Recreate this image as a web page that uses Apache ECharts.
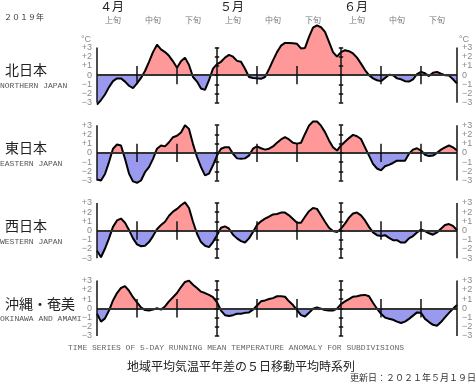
<!DOCTYPE html>
<html><head><meta charset="utf-8">
<script src="https://cdn.jsdelivr.net/npm/echarts@6/dist/echarts.min.js"></script>
<style>html,body{margin:0;padding:0;background:#fff}#c{width:476px;height:382px}</style>
</head><body><div id="c"></div>
<script>
// ---- data ----
const yearLabel = '２０１９年';
const monthLabels = ['４月', '５月', '６月'];
const monthStartIdx = [0, 30, 61];
const dekadLabels = ['上旬', '中旬', '下旬', '上旬', '中旬', '下旬', '上旬', '中旬', '下旬'];
const dekadStartIdx = [0, 10, 20, 30, 40, 50, 61, 71, 81];
const majorLineIdx = [0, 30, 61, 90];
const dekadLineIdx = [10, 20, 40, 50, 71, 81];
const yTicks = [-3, -2, -1, 0, 1, 2, 3];
const regionNames = ['北日本', '東日本', '西日本', '沖縄・奄美'];
const regionNamesEn = ['NORTHERN JAPAN', 'EASTERN JAPAN', 'WESTERN JAPAN', 'OKINAWA AND AMAMI'];

const northern = [-3.2,-2.7,-2.1,-1.3,-0.65,-0.35,-0.35,-0.7,-1.15,-1.4,
  -0.9,-0.3,0.45,1.45,2.5,3.3,2.8,2.5,2.1,1.5,
  0.8,1.5,1.9,1.1,-0.2,-0.7,-1.45,-1.6,-0.55,0.7,
  1.2,1.45,1.9,2.2,2.0,1.55,1.45,0.7,-0.2,-0.3,
  -0.35,-0.4,-0.2,0.65,1.6,2.5,3.2,3.5,3.5,3.45,
  3.4,2.9,2.95,4.15,5.15,5.4,5.2,4.7,3.6,2.5,
  2.0,2.5,2.7,2.6,2.35,1.9,1.25,0.55,0,-0.35,
  -0.55,-0.65,-0.3,0.05,0,-0.35,-0.45,-0.65,-0.7,-0.45,
  0.1,0.35,0.2,-0.1,0.25,0.35,0.15,0,-0.05,-0.45,
  -0.9];
const eastern = [-2.9,-3.0,-2.3,-1.0,0.45,0.9,0.8,-0.65,-2.25,-3.1,
  -3.25,-3.0,-2.1,-1.55,-0.65,0.45,0.8,0.7,1.15,1.7,
  1.85,2.2,3.0,2.6,0.95,-0.45,-1.55,-2.45,-2.25,-1.35,
  -0.3,0.45,0.6,0.6,-0.1,-0.6,-0.65,-0.6,-0.3,0.45,
  0.7,0.5,0.35,0.45,0.7,1.1,1.45,1.7,1.45,1.1,
  1.0,1.1,2.05,2.95,3.4,3.4,2.95,2.25,1.35,0.6,
  0.25,0.8,1.2,1.6,1.95,1.8,1.5,0.6,-0.3,-1.2,
  -1.7,-1.9,-1.45,-1.3,-1.1,-0.85,-0.85,-0.85,-0.1,0.35,
  0.5,0.25,-0.2,-0.35,-0.3,0,0.35,0.6,0.8,0.6,
  0.25];
const western = [-2.2,-2.9,-1.95,-0.85,0.4,1.1,1.3,0.85,0.05,-0.85,
  -1.5,-1.7,-1.65,-1.25,-0.6,0.15,0.6,0.95,1.6,2.05,
  2.35,2.75,3.05,2.45,0.95,-0.35,-1.25,-1.65,-1.8,-1.25,
  -0.5,0.3,0.45,0.2,-0.45,-0.85,-1.15,-1.3,-0.85,-0.15,
  0.6,1.0,1.3,1.5,1.75,1.8,1.95,1.95,1.65,1.25,
  0.85,0.85,1.5,2.1,2.45,2.35,1.65,0.95,0.3,-0.05,
  -0.15,0.2,0.75,1.4,1.85,1.95,1.65,1.1,0.4,-0.2,
  -0.5,-0.6,-0.5,-0.8,-1.05,-1.05,-1.3,-1.3,-0.85,-0.6,
  -0.2,0.1,-0.05,-0.3,-0.45,-0.2,0.2,0.6,0.7,0.5,
  0.05];
const okinawa = [-0.6,-1.45,-1.1,-0.25,0.85,1.65,2.2,2.4,1.9,1.2,
  0.65,0.1,-0.2,-0.25,-0.15,0,-0.15,0.2,0.75,1.2,
  1.65,2.3,2.85,3.0,2.55,2.2,1.8,1.65,1.45,1.2,
  0.65,-0.25,-0.75,-0.85,-0.75,-0.6,-0.6,-0.5,-0.45,-0.15,
  0.3,0.75,0.85,1.0,1.1,1.3,1.3,1.25,0.75,0.35,
  -0.2,-0.75,-0.9,-0.5,-0.05,0.1,-0.05,-0.2,-0.25,-0.25,
  -0.05,0.45,0.75,1.0,1.25,1.3,1.4,1.45,1.3,0.6,
  -0.05,-0.6,-1.0,-1.15,-1.25,-1.45,-1.6,-1.45,-1.15,-0.8,
  -0.45,-0.5,-1.15,-1.5,-1.8,-1.9,-1.5,-1.0,-0.5,-0.05,
  0.35];

// ---- layout / style ----
const panels = [northern, eastern, western, okinawa];
const GRID_L = 97, GRID_W = 360, GRID_TOP0 = 47.5, GRID_STEP = 77.7, GRID_H = 55.3;
const POS = '#ff9999', NEG = '#9999ee';
const CJK = '"Noto Sans CJK JP"';
const MONO = '"Liberation Mono"';
const fmt = v => v > 0 ? '+' + v : (v < 0 ? '\u2212' + (-v) : '0');

const chart = echarts.init(document.getElementById('c'), null, {renderer: 'canvas'});
const grids = [], xAxes = [], yAxes = [], series = [];

panels.forEach((vals, k) => {
  const top = GRID_TOP0 + GRID_STEP * k;
  grids.push({left: GRID_L, top: top, width: GRID_W, height: GRID_H, containLabel: false, outerBoundsMode: 'none'});
  xAxes.push({type: 'value', gridIndex: k, min: 0, max: vals.length - 1, show: false});
  const yBase = {
    type: 'value', gridIndex: k, min: -3, max: 3, interval: 1,
    axisLine: {show: false}, axisTick: {show: false}, splitLine: {show: false},
    axisLabel: {formatter: fmt, color: '#8a8a8a', fontSize: 9, fontFamily: 'Liberation Sans', margin: 5}
  };
  yAxes.push(Object.assign({position: 'left'}, yBase));
  yAxes.push(Object.assign({position: 'right'}, yBase));
  const ml = [];
  ml.push({yAxis: 0, lineStyle: {color: '#333', width: 2}});
  majorLineIdx.forEach(x => {
    ml.push([{coord: [x, -3]}, {coord: [x, 3]}]);
    yTicks.forEach(t => ml.push([{coord: [x - 0.55, t]}, {coord: [x + 0.55, t]}]));
  });
  dekadLineIdx.forEach(x => ml.push([{coord: [x, -1]}, {coord: [x, 1]}]));
  // symmetric axis (-3..3): zero sits at the grid's vertical centre -> offset 0.5 of a global gradient
  const fill = new echarts.graphic.LinearGradient(0, top - 200, 0, top + GRID_H + 200, [
    {offset: 0, color: POS}, {offset: 0.5, color: POS},
    {offset: 0.5, color: NEG}, {offset: 1, color: NEG}
  ], true);
  series.push({
    type: 'line', xAxisIndex: k, yAxisIndex: 2 * k,
    data: vals.map((v, i) => [i, v]),
    symbol: 'none', showSymbol: false, clip: false, z: 3,
    lineStyle: {color: '#000', width: 2},
    areaStyle: {color: fill, opacity: 1, origin: 0},
    markLine: {
      silent: true, symbol: ['none', 'none'], animation: false,
      label: {show: false},
      lineStyle: {color: '#111', width: 1.5, type: 'solid'},
      data: ml
    }
  });
});

function txt(x, y, text, font, fill, align, valign) {
  align = align || 'center'; valign = valign || 'middle';
  return {type: 'text', x: x, y: y, silent: true, z: 10,
    style: {text: text, font: font, fill: fill, textAlign: align, textVerticalAlign: valign, align: align, verticalAlign: valign}};
}
const dayX = i => GRID_L + GRID_W * i / 90;
const graphics = [];
graphics.push(txt(24, 17, yearLabel, '8px ' + CJK, '#333'));
monthLabels.forEach((m, j) => graphics.push(txt(dayX(monthStartIdx[j]) + 15, 6, m, '12px ' + CJK, '#222')));
dekadLabels.forEach((d, j) => graphics.push(txt(dayX(dekadStartIdx[j]) + 16, 20, d, '8px ' + CJK, '#777')));
graphics.push(txt(91, 40, '°C', '9px "Liberation Sans"', '#8a8a8a', 'right'));
graphics.push(txt(459, 40, '°C', '9px "Liberation Sans"', '#8a8a8a', 'left'));
panels.forEach((v, k) => {
  const zero = GRID_TOP0 + GRID_STEP * k + GRID_H / 2;
  graphics.push(txt(5, zero - 5, regionNames[k], '14px ' + CJK, '#222', 'left'));
  graphics.push(txt(0, zero + 11, regionNamesEn[k], '8px ' + MONO, '#555', 'left'));
});
graphics.push(txt(68, 348, 'TIME SERIES OF 5-DAY RUNNING MEAN TEMPERATURE ANOMALY FOR SUBDIVISIONS', '8px ' + MONO, '#666', 'left'));
graphics.push(txt(241, 366, '地域平均気温平年差の５日移動平均時系列', '12px ' + CJK, '#222'));
graphics.push(txt(476, 378, '更新日：２０２１年５月１９日', '9px ' + CJK, '#333', 'right'));

chart.setOption({
  animation: false,
  backgroundColor: '#fff',
  grid: grids, xAxis: xAxes, yAxis: yAxes,
  series: series,
  graphic: {elements: graphics}
});
</script>
</body></html>
